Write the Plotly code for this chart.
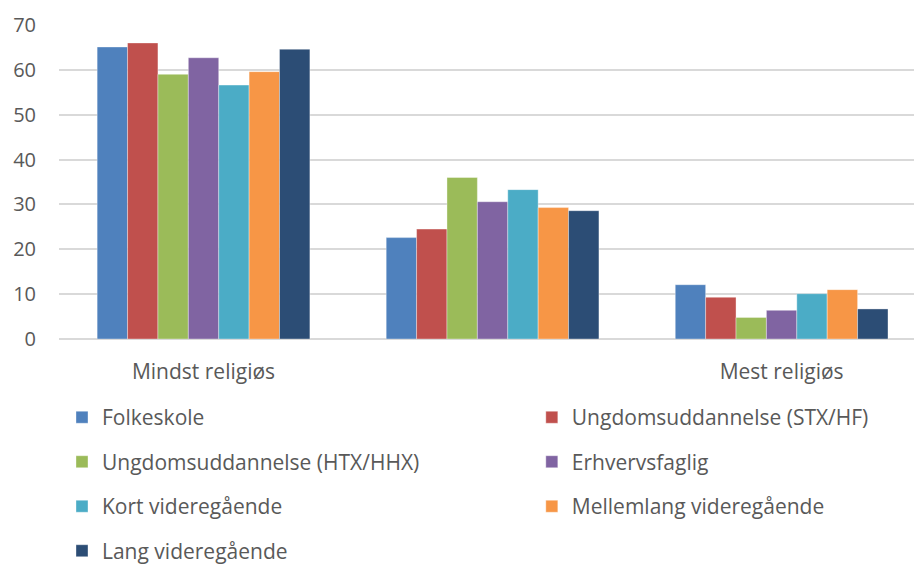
import plotly.graph_objects as go

categories = ["Mindst religiøs", "", "Mest religiøs"]
series_names = [
    "Folkeskole",
    "Ungdomsuddannelse (STX/HF)",
    "Ungdomsuddannelse (HTX/HHX)",
    "Erhvervsfaglig",
    "Kort videregående",
    "Mellemlang videregående",
    "Lang videregående",
]
folkeskole = [65.1, 22.6, 12.1]
stx_hf = [66.0, 24.5, 9.3]
htx_hhx = [59.0, 36.0, 4.8]
erhvervsfaglig = [62.7, 30.6, 6.4]
kort = [56.6, 33.3, 10.1]
mellemlang = [59.6, 29.3, 11.0]
lang = [64.6, 28.6, 6.7]
y_ticks = [0, 10, 20, 30, 40, 50, 60, 70]

series_values = [folkeskole, stx_hf, htx_hhx, erhvervsfaglig, kort, mellemlang, lang]
colors = ["#4F81BD", "#C0504D", "#9BBB59", "#8064A2", "#4BACC6", "#F79646", "#2C4D75"]
legend_of = ["legend", "legend2", "legend", "legend2", "legend", "legend2", "legend"]

FONT = "'Open Sans', Calibri, Carlito, sans-serif"
GREY = "#595959"

x_pos = list(range(len(categories)))

fig = go.Figure()
for name, vals, col, lg in zip(series_names, series_values, colors, legend_of):
    fig.add_trace(go.Bar(
        x=x_pos, y=vals, name=name,
        marker=dict(color=col, line=dict(color="rgba(255,255,255,0.6)", width=0.6)),
        legend=lg, legendgroup=name,
    ))

legend_common = dict(
    orientation="v",
    traceorder="grouped",
    tracegroupgap=14.2,
    font=dict(family=FONT, size=21, color=GREY),
    bgcolor="rgba(0,0,0,0)",
    xanchor="left",
    yanchor="top",
    itemwidth=30,
)

fig.update_layout(
    width=914, height=564,
    margin=dict(l=59, r=0, t=25, b=225, autoexpand=False),
    paper_bgcolor="white", plot_bgcolor="white",
    barmode="group", bargap=0.264, bargroupgap=0,
    font=dict(family=FONT, size=20, color=GREY),
    showlegend=True,
    legend=dict(x=0.0035, y=-0.185, **legend_common),
    legend2=dict(x=0.553, y=-0.185, **legend_common),
    xaxis=dict(
        range=[-0.5, 2.458], automargin=False,
        tickmode="array", tickvals=x_pos, ticktext=categories,
        showgrid=False, zeroline=False, showline=False, ticks="",
        ticklabelstandoff=18,
        tickfont=dict(family=FONT, size=21, color=GREY),
    ),
    yaxis=dict(
        range=[0, 70], tickmode="array", tickvals=y_ticks, automargin=False,
        showgrid=True, gridcolor="#D9D9D9", gridwidth=1.5,
        zeroline=True, zerolinecolor="#D9D9D9", zerolinewidth=1.5,
        showline=False, ticks="", ticklabelstandoff=22,
        tickfont=dict(family=FONT, size=20, color=GREY),
    ),
)

fig.write_html(
    "out.html",
    config={"displayModeBar": False},
    post_script="document.body.style.margin='0';document.body.style.overflow='hidden';",
)
